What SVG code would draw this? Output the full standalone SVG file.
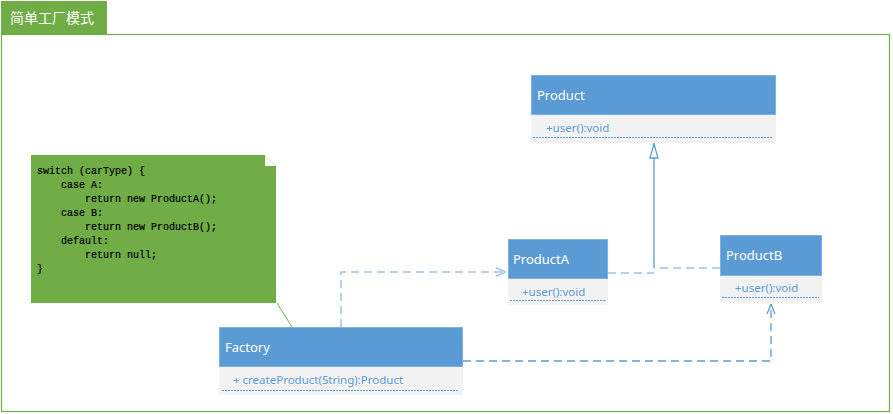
<svg xmlns="http://www.w3.org/2000/svg" width="893" height="414" viewBox="0 0 893 414">
<defs>
<style>
.hdr{fill:#5B9BD5;stroke:#7FB2E0;stroke-width:1}
.cmp{fill:#F2F2F2;stroke:none}
.dot{stroke:#5B9BD5;stroke-width:1;stroke-dasharray:2 1}
.name{font-family:"Noto Sans","Open Sans",sans-serif;font-size:13px;fill:#FFFFFF}
.op{font-family:"Noto Sans","Open Sans",sans-serif;font-size:11.5px;fill:#5B9BD5}
.code{font-family:"Liberation Mono",monospace;font-size:10px;fill:#000000;stroke:#000000;stroke-width:0.2}
.dash{fill:none;stroke:#5B9BD5;stroke-width:1.3;stroke-dasharray:8 5}
.dashl{fill:none;stroke:#9DC3E6;stroke-width:1.5;stroke-dasharray:8 5}
.solid{fill:none;stroke:#5B9BD5;stroke-width:1.3}
</style>
<marker id="open" viewBox="0 0 10 10" refX="10" refY="5" markerWidth="10" markerHeight="10" markerUnits="userSpaceOnUse" orient="auto">
<path d="M0,1 L10,5 L0,9" fill="none" stroke="#5B9BD5" stroke-width="1.2"/>
</marker>
<marker id="openl" viewBox="0 0 10 10" refX="10" refY="5" markerWidth="10" markerHeight="10" markerUnits="userSpaceOnUse" orient="auto">
<path d="M0,1 L10,5 L0,9" fill="none" stroke="#9DC3E6" stroke-width="1.4"/>
</marker>
<marker id="tri" viewBox="0 0 16 10" refX="16" refY="5" markerWidth="16" markerHeight="10" markerUnits="userSpaceOnUse" orient="auto">
<path d="M1,1 L15,5 L1,9 Z" fill="#FFFFFF" stroke="#5B9BD5" stroke-width="1.3"/>
</marker>
</defs>
<rect width="893" height="414" fill="#FFFFFF"/>
<g id="frame">
<rect x="1.5" y="34.5" width="888" height="377" fill="none" stroke="#70AD47" stroke-width="1.2"/>
<rect x="1" y="1" width="106" height="34" fill="#70AD47"/>
<text x="10" y="23" font-family="'Noto Sans CJK SC',sans-serif" font-size="14" fill="#FFFFFF">简单工厂模式</text>
</g>
<g id="connectors">
<line x1="277" y1="303" x2="292" y2="327" stroke="#70AD47" stroke-width="1"/>
<path class="dashl" d="M341,327 V272 H506" marker-end="url(#openl)"/>
<path class="dashl" d="M608,273 H654"/>
<path class="dashl" d="M720,268 H654"/>
<path class="solid" d="M654,268 V143" marker-end="url(#tri)"/>
<path class="dash" d="M463,361 H771 V304" marker-end="url(#open)"/>
</g>
<g id="note">
<path d="M31,155 H265 L276,166 V303 H31 Z" fill="#70AD47"/>
<path d="M265,155 L276,166 H265 Z" fill="#FFFFFF"/>
<text class="code" x="37" y="174">switch (carType) {</text>
<text class="code" x="61" y="188">case A:</text>
<text class="code" x="85" y="202">return new ProductA();</text>
<text class="code" x="61" y="216">case B:</text>
<text class="code" x="85" y="230">return new ProductB();</text>
<text class="code" x="61" y="244">default:</text>
<text class="code" x="85" y="258">return null;</text>
<text class="code" x="37" y="272">}</text>
</g>
<g id="product">
<rect class="hdr" x="531.5" y="75.5" width="244" height="39"/>
<rect class="cmp" x="531" y="115" width="245" height="28"/>
<text class="name" x="537" y="100">Product</text>
<text class="op" x="546" y="132">+user():void</text>
<line class="dot" x1="533" y1="137.5" x2="772" y2="137.5"/>
</g>
<g id="productA">
<rect class="hdr" x="508.5" y="239.5" width="99" height="39"/>
<rect class="cmp" x="508" y="279" width="100" height="26"/>
<text class="name" x="513" y="264">ProductA</text>
<text class="op" x="522" y="296">+user():void</text>
<line class="dot" x1="510" y1="300.5" x2="605" y2="300.5"/>
</g>
<g id="productB">
<rect class="hdr" x="720.5" y="235.5" width="101" height="40"/>
<rect class="cmp" x="720" y="276" width="102" height="26"/>
<text class="name" x="726" y="260">ProductB</text>
<text class="op" x="735" y="292">+user():void</text>
<line class="dot" x1="722" y1="297.5" x2="819" y2="297.5"/>
</g>
<g id="factory">
<rect class="hdr" x="219.5" y="327.5" width="243" height="39"/>
<rect class="cmp" x="219" y="367" width="244" height="28"/>
<text class="name" x="225" y="352">Factory</text>
<text class="op" x="233" y="384">+ createProduct(String):Product</text>
<line class="dot" x1="222" y1="390.5" x2="459" y2="390.5"/>
</g>
</svg>
